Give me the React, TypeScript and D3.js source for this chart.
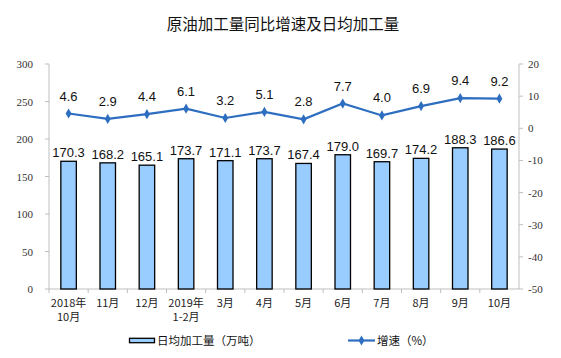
import React from "react";
import * as d3 from "d3";

const categories = [
  ["2018年", "10月"], ["11月"], ["12月"], ["2019年", "1-2月"], ["3月"], ["4月"],
  ["5月"], ["6月"], ["7月"], ["8月"], ["9月"], ["10月"],
];
const dailyOutput = [170.3, 168.2, 165.1, 173.7, 171.1, 173.7, 167.4, 179.0, 169.7, 174.2, 188.3, 186.6];
const growth = [4.6, 2.9, 4.4, 6.1, 3.2, 5.1, 2.8, 7.7, 4.0, 6.9, 9.4, 9.2];
const leftTicks = [0, 50, 100, 150, 200, 250, 300];
const rightTicks = [-50, -40, -30, -20, -10, 0, 10, 20];

const W = 561, H = 358;
const X0 = 49, X1 = 519, Y0 = 64, Y1 = 289;
const BLUE = "#2E6EC0";
const CJK = "'Noto Sans CJK SC', sans-serif";

export default function App() {
  const idx = categories.map((_, i) => String(i));
  const x = d3.scaleBand().domain(idx).range([X0, X1]).paddingInner(0).paddingOuter(0);
  const yL = d3.scaleLinear().domain([0, 300]).range([Y1, Y0]);
  const yR = d3.scaleLinear().domain([-50, 20]).range([Y1, Y0]);
  const bw = 15.5;
  const cx = (i: number) => (x(String(i)) as number) + x.bandwidth() / 2;
  const line = d3.line<number>().x((_, i) => cx(i)).y((d) => yR(d));
  const diamond = d3.symbol().type(d3.symbolDiamond).size(30)();

  return (
    <svg width={W} height={H} style={{ position: "absolute", left: 0, top: 0 }}>
      <rect width={W} height={H} fill="#fff" />
      <text x={283} y={30} textAnchor="middle" fontFamily={CJK} fontSize={15.5} fill="#111">
        原油加工量同比增速及日均加工量
      </text>
      {/* axes */}
      <line x1={X0} x2={X0} y1={Y0} y2={Y1} stroke="#bfbfbf" />
      <line x1={X1} x2={X1} y1={Y0} y2={Y1} stroke="#bfbfbf" />
      <line x1={X0} x2={X1} y1={Y1} y2={Y1} stroke="#bfbfbf" />
      {leftTicks.map((t) => (
        <g key={"l" + t}>
          <line x1={X0 - 4} x2={X0} y1={yL(t)} y2={yL(t)} stroke="#bfbfbf" />
          <text x={33} y={yL(t) + 4} textAnchor="end" fontFamily="'Liberation Serif', serif" fontSize={11} fill="#333">{t}</text>
        </g>
      ))}
      {rightTicks.map((t) => (
        <g key={"r" + t}>
          <line x1={X1} x2={X1 + 4} y1={yR(t)} y2={yR(t)} stroke="#bfbfbf" />
          <text x={528} y={yR(t) + 4} textAnchor="start" fontFamily="'Liberation Serif', serif" fontSize={11} fill="#333">{t}</text>
        </g>
      ))}
      {idx.map((d, i) => (
        <line key={"xt" + i} x1={x(d) as number} x2={x(d) as number} y1={Y1} y2={Y1 + 4} stroke="#bfbfbf" />
      ))}
      {/* bars */}
      {dailyOutput.map((v, i) => (
        <g key={"b" + i}>
          <rect x={cx(i) - bw / 2} y={yL(v)} width={bw} height={Y1 - yL(v)} fill="#99CCFF" stroke="#000" strokeWidth={1.3} />
          <text x={cx(i)} y={yL(v) - 4} textAnchor="middle" fontFamily="'Liberation Sans', Arial, sans-serif" fontSize={13} fill="#111">{v.toFixed(1)}</text>
        </g>
      ))}
      {/* line */}
      <path d={line(growth) || ""} fill="none" stroke={BLUE} strokeWidth={2.2} />
      {growth.map((v, i) => (
        <g key={"p" + i}>
          <path d={diamond || ""} transform={`translate(${cx(i)},${yR(v)})`} fill={BLUE} />
          <text x={cx(i)} y={yR(v) - 13} textAnchor="middle" fontFamily="'Liberation Sans', Arial, sans-serif" fontSize={13} fill="#111">{v.toFixed(1)}</text>
        </g>
      ))}
      {/* x labels */}
      {categories.map((lines, i) => (
        <text key={"xl" + i} x={cx(i)} y={307} textAnchor="middle" fontFamily={CJK} fontSize={11} fill="#222">
          {lines.map((l, j) => (
            <tspan key={j} x={cx(i)} dy={j === 0 ? 0 : 14}>{l}</tspan>
          ))}
        </text>
      ))}
      {/* legend */}
      <rect x={129.5} y={338.3} width={25} height={4.4} fill="#99CCFF" stroke="#000" strokeWidth={1.3} />
      <text x={157} y={345} fontFamily={CJK} fontSize={11.5} fill="#111">日均加工量（万吨）</text>
      <line x1={348} x2={375} y1={340.5} y2={340.5} stroke={BLUE} strokeWidth={2.2} />
      <path d={diamond || ""} transform="translate(361.5,340.5)" fill={BLUE} />
      <text x={377} y={345} fontFamily={CJK} fontSize={11.5} fill="#111">增速（%）</text>
    </svg>
  );
}
